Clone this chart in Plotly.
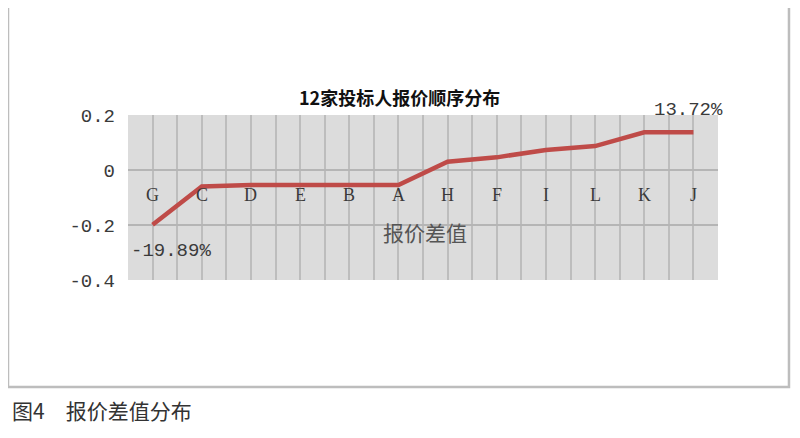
import plotly.graph_objects as go

# bidders sorted by price difference
bidders = ['G', 'C', 'D', 'E', 'B', 'A', 'H', 'F', 'I', 'L', 'K', 'J']
diff = [-0.1989, -0.060, -0.055, -0.055, -0.055, -0.055,
        0.030, 0.046, 0.073, 0.087, 0.1372, 0.1372]
y_ticks = [0.2, 0, -0.2, -0.4]
y_tick_text = ['0.2', '0', '-0.2', '-0.4']

serif = 'Liberation Serif, DejaVu Serif, serif'
mono = 'Liberation Mono, DejaVu Sans Mono, monospace'
cjk = 'Noto Sans CJK SC'

x_pos = list(range(len(bidders)))

fig = go.Figure()

fig.add_trace(go.Scatter(
    x=x_pos,
    y=diff,
    mode='lines',
    line=dict(color='#bf4b48', width=4.5),
    hoverinfo='skip',
    showlegend=False))

# category labels sit just below the zero line, like Excel's axis
for xi, name in zip(x_pos, bidders):
    fig.add_annotation(
        x=xi, y=-0.09, text=name, showarrow=False,
        font=dict(family=serif, size=18, color='#3a3a3a'))

# min / max data labels
fig.add_annotation(
    x=x_pos[0], y=diff[0], text='-19.89%', showarrow=False,
    yshift=-26, xshift=18,
    font=dict(family=mono, size=19, color='#3a3a3a'))
fig.add_annotation(
    x=x_pos[-1], y=diff[-1], text='13.72%', showarrow=False,
    yshift=22, xshift=-5,
    font=dict(family=mono, size=19, color='#3a3a3a'))

# axis title
fig.add_annotation(
    x=5.55, y=-0.225, text='报价差值', showarrow=False,
    font=dict(family=cjk, size=21, color='#555555'))

# chart title
fig.add_annotation(
    xref='paper', yref='paper', x=0.461, y=1.109,
    xanchor='center', yanchor='middle',
    text='<b>12家投标人报价顺序分布</b>', showarrow=False,
    font=dict(family=cjk, size=18, color='#111111'))

# caption under the frame
fig.add_annotation(
    xref='paper', yref='paper', x=-0.2, y=-0.788,
    xanchor='left', yanchor='middle',
    text='图4\u3000报价差值分布', showarrow=False,
    font=dict(family=cjk, size=21, color='#333333'))

# outer frame
fig.add_shape(
    type='rect', xref='paper', yref='paper',
    x0=-0.2034, x1=1.1203, y0=-0.6485, y1=1.6606,
    line=dict(color='#bdbdbd', width=2.5), layer='below')

fig.update_xaxes(
    range=[-0.5, 11.5],
    tick0=-0.5, dtick=0.5,
    showticklabels=False,
    showgrid=True, gridcolor='#bdbdbd', gridwidth=2,
    zeroline=False, showline=False)

fig.update_yaxes(
    range=[-0.4, 0.2],
    tickvals=y_ticks, ticktext=y_tick_text,
    tickfont=dict(family=mono, size=19, color='#3a3a3a'),
    ticklabelstandoff=12,
    showgrid=True, gridcolor='#b5b5b5', gridwidth=2,
    zeroline=False, showline=False)

# page body has an 8px margin, so the figure is 8px smaller each way
fig.update_layout(
    width=792, height=430,
    margin=dict(l=120, r=82, t=107, b=158),
    plot_bgcolor='#dcdcdc',
    paper_bgcolor='white')

fig.write_html('out.html')
